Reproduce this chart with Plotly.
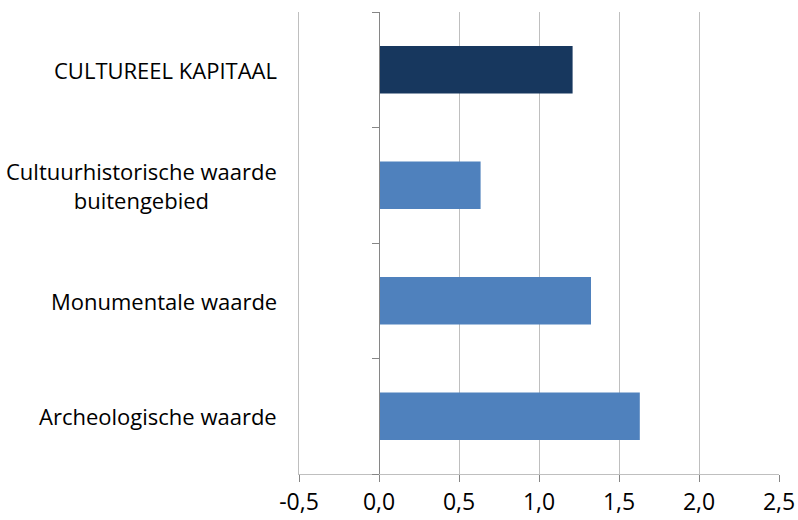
import plotly.graph_objects as go

categories = ["CULTUREEL KAPITAAL", "Cultuurhistorische waarde<br>buitengebied",
              "Monumentale waarde", "Archeologische waarde"]
values = [1.21, 0.635, 1.325, 1.63]
colors = ["#17375E", "#4F81BD", "#4F81BD", "#4F81BD"]
x_ticks = [-0.5, 0.0, 0.5, 1.0, 1.5, 2.0, 2.5]
x_tick_labels = ["-0,5", "0,0", "0,5", "1,0", "1,5", "2,0", "2,5"]

FONT = "Open Sans"
cat_range = [-0.5, len(categories) - 0.5]

fig = go.Figure()
fig.add_trace(go.Bar(
    y=categories, x=values, orientation="h",
    marker=dict(color=colors, line=dict(width=0)),
    width=0.41, yaxis="y", hoverinfo="skip",
))
# invisible trace for the category axis drawn at x = 0
fig.add_trace(go.Scatter(
    y=categories, x=[0] * len(categories), yaxis="y2",
    mode="markers", marker=dict(opacity=0), showlegend=False, hoverinfo="skip",
))

fig.update_layout(
    width=798, height=520,
    margin=dict(l=299, r=19, t=12, b=46),
    paper_bgcolor="white", plot_bgcolor="white",
    showlegend=False,
    font=dict(family=FONT, color="black"),
    xaxis=dict(
        range=[-0.5, 2.5], tickvals=x_ticks, ticktext=x_tick_labels,
        showgrid=True, gridcolor="#BFBFBF", gridwidth=1,
        zeroline=False, automargin=False,
        showline=True, linecolor="#BFBFBF", linewidth=1,
        ticks="outside", ticklen=7, tickcolor="#868686",
        tickfont=dict(size=23, family=FONT),
    ),
    yaxis=dict(
        type="category", categoryorder="array", categoryarray=categories[::-1],
        range=cat_range,
        showticklabels=False, ticks="", showline=True, linecolor="#BFBFBF",
        linewidth=1, showgrid=False, automargin=False,
    ),
    yaxis2=dict(
        type="category", categoryorder="array", categoryarray=categories[::-1],
        range=cat_range,
        overlaying="y", anchor="free", position=1/6, side="left",
        showticklabels=False, showline=True, linecolor="#868686", linewidth=1,
        ticks="outside", ticklen=7, tickcolor="#868686", tickson="boundaries",
        showgrid=False, zeroline=False, automargin=False,
    ),
)

for cat in categories:
    fig.add_annotation(
        x=0, xref="paper", y=cat, yref="y",
        text=cat, showarrow=False, xanchor="right", yanchor="middle",
        xshift=-20, align="center",
        font=dict(size=22, family=FONT, color="black"),
    )

fig.write_html("out.html", config={"displayModeBar": False},
               post_script="document.body.style.margin='0';")
